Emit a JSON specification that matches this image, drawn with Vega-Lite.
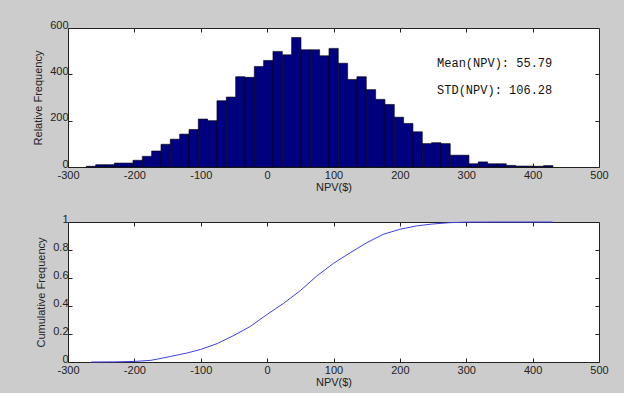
{
  "$schema": "https://vega.github.io/schema/vega-lite/v6.json",
  "background": "#cccccc",
  "padding": {"left": 32, "top": 18, "right": 20, "bottom": 5},
  "config": {
    "view": {"fill": "white", "stroke": "#222222", "strokeWidth": 1},
    "axis": {
      "labelFont": "Liberation Sans", "labelFontSize": 11, "labelColor": "#222222",
      "titleFont": "Liberation Sans", "titleFontSize": 11, "titleFontWeight": "normal", "titleColor": "#222222",
      "grid": false, "domain": false, "tickColor": "#222222", "tickSize": -4, "labelPadding": 4,
      "labelFlush": false, "labelOverlap": false,
      "labelExpr": "'' + datum.value"
    },
    "axisLeft": {"titlePadding": 6, "labelOffset": -3},
    "axisBottom": {"labelPadding": 6}
  },
  "datasets": {
    "hist": [
      {"bin_start": -272.4, "bin_end": -258.3, "count": 3},
      {"bin_start": -258.3, "bin_end": -244.3, "count": 10},
      {"bin_start": -244.3, "bin_end": -230.2, "count": 10},
      {"bin_start": -230.2, "bin_end": -216.2, "count": 17},
      {"bin_start": -216.2, "bin_end": -202.1, "count": 17},
      {"bin_start": -202.1, "bin_end": -188.0, "count": 29},
      {"bin_start": -188.0, "bin_end": -174.0, "count": 46},
      {"bin_start": -174.0, "bin_end": -159.9, "count": 69},
      {"bin_start": -159.9, "bin_end": -145.9, "count": 98},
      {"bin_start": -145.9, "bin_end": -131.8, "count": 120},
      {"bin_start": -131.8, "bin_end": -117.7, "count": 142},
      {"bin_start": -117.7, "bin_end": -103.7, "count": 162},
      {"bin_start": -103.7, "bin_end": -89.6, "count": 207},
      {"bin_start": -89.6, "bin_end": -75.6, "count": 200},
      {"bin_start": -75.6, "bin_end": -61.5, "count": 286},
      {"bin_start": -61.5, "bin_end": -47.4, "count": 302},
      {"bin_start": -47.4, "bin_end": -33.4, "count": 390},
      {"bin_start": -33.4, "bin_end": -19.3, "count": 387},
      {"bin_start": -19.3, "bin_end": -5.3, "count": 434},
      {"bin_start": -5.3, "bin_end": 8.8, "count": 460},
      {"bin_start": 8.8, "bin_end": 22.9, "count": 499},
      {"bin_start": 22.9, "bin_end": 36.9, "count": 484},
      {"bin_start": 36.9, "bin_end": 51.0, "count": 559},
      {"bin_start": 51.0, "bin_end": 65.0, "count": 506},
      {"bin_start": 65.0, "bin_end": 79.1, "count": 506},
      {"bin_start": 79.1, "bin_end": 93.2, "count": 480},
      {"bin_start": 93.2, "bin_end": 107.2, "count": 512},
      {"bin_start": 107.2, "bin_end": 121.3, "count": 448},
      {"bin_start": 121.3, "bin_end": 135.3, "count": 378},
      {"bin_start": 135.3, "bin_end": 149.4, "count": 390},
      {"bin_start": 149.4, "bin_end": 163.5, "count": 334},
      {"bin_start": 163.5, "bin_end": 177.5, "count": 292},
      {"bin_start": 177.5, "bin_end": 191.6, "count": 270},
      {"bin_start": 191.6, "bin_end": 205.6, "count": 215},
      {"bin_start": 205.6, "bin_end": 219.7, "count": 188},
      {"bin_start": 219.7, "bin_end": 233.8, "count": 152},
      {"bin_start": 233.8, "bin_end": 247.8, "count": 101},
      {"bin_start": 247.8, "bin_end": 261.9, "count": 105},
      {"bin_start": 261.9, "bin_end": 275.9, "count": 101},
      {"bin_start": 275.9, "bin_end": 290.0, "count": 51},
      {"bin_start": 290.0, "bin_end": 304.1, "count": 51},
      {"bin_start": 304.1, "bin_end": 318.1, "count": 14},
      {"bin_start": 318.1, "bin_end": 332.2, "count": 22},
      {"bin_start": 332.2, "bin_end": 346.2, "count": 14},
      {"bin_start": 346.2, "bin_end": 360.3, "count": 14},
      {"bin_start": 360.3, "bin_end": 374.4, "count": 7},
      {"bin_start": 374.4, "bin_end": 388.4, "count": 4},
      {"bin_start": 388.4, "bin_end": 402.5, "count": 4},
      {"bin_start": 402.5, "bin_end": 416.5, "count": 3},
      {"bin_start": 416.5, "bin_end": 430.6, "count": 6}
    ],
    "stats": [
      {"x": 256, "y": 450, "label": "Mean(NPV): 55.79"},
      {"x": 256, "y": 332, "label": "STD(NPV): 106.28"}
    ],
    "cdf": [
      {"npv": -265, "cum": 0},
      {"npv": -230, "cum": 0.001},
      {"npv": -200, "cum": 0.004},
      {"npv": -175, "cum": 0.012},
      {"npv": -145, "cum": 0.04},
      {"npv": -120, "cum": 0.065},
      {"npv": -100, "cum": 0.09},
      {"npv": -75, "cum": 0.132},
      {"npv": -50, "cum": 0.19},
      {"npv": -25, "cum": 0.255},
      {"npv": 0, "cum": 0.34},
      {"npv": 25, "cum": 0.42},
      {"npv": 50, "cum": 0.51},
      {"npv": 75, "cum": 0.615},
      {"npv": 100, "cum": 0.705},
      {"npv": 125, "cum": 0.78},
      {"npv": 150, "cum": 0.852},
      {"npv": 175, "cum": 0.912},
      {"npv": 200, "cum": 0.948},
      {"npv": 225, "cum": 0.972},
      {"npv": 250, "cum": 0.986},
      {"npv": 275, "cum": 0.995},
      {"npv": 300, "cum": 0.999},
      {"npv": 350, "cum": 1.0},
      {"npv": 430, "cum": 1.0}
    ]
  },
  "bounds": "flush",
  "spacing": 55,
  "vconcat": [
    {
      "width": 531,
      "height": 139,
      "layer": [
        {
          "data": {"name": "hist"},
          "mark": {"type": "bar", "fill": "#000080", "stroke": "#000000", "strokeWidth": 0.6},
          "encoding": {
            "x": {"field": "bin_start", "type": "quantitative",
                  "scale": {"domain": [-300, 500], "nice": false, "zero": false, "padding": 0},
                  "axis": {"orient": "bottom", "values": [-300, -200, -100, 0, 100, 200, 300, 400, 500], "title": "NPV($)", "titlePadding": 1}},
            "x2": {"field": "bin_end"},
            "y": {"field": "count", "type": "quantitative",
                  "scale": {"domain": [0, 600], "nice": false, "padding": 0},
                  "axis": {"orient": "left", "values": [0, 200, 400, 600], "title": "Relative Frequency"}},
            "y2": {"datum": 0}
          }
        },
        {
          "data": {"name": "stats"},
          "mark": {"type": "text", "align": "left", "baseline": "middle", "font": "Liberation Mono", "fontSize": 12, "color": "#111111"},
          "encoding": {
            "x": {"field": "x", "type": "quantitative",
                  "axis": {"orient": "top", "labels": false, "title": null, "values": [-200, -100, 0, 100, 200, 300, 400]}},
            "y": {"field": "y", "type": "quantitative",
                  "axis": {"orient": "right", "labels": false, "title": null, "values": [200, 400]}},
            "text": {"field": "label"}
          }
        }
      ],
      "resolve": {"axis": {"x": "independent", "y": "independent"}}
    },
    {
      "width": 531,
      "height": 140,
      "layer": [
        {
          "data": {"name": "cdf"},
          "mark": {"type": "line", "color": "#4040e0", "strokeWidth": 1},
          "encoding": {
            "x": {"field": "npv", "type": "quantitative",
                  "scale": {"domain": [-300, 500], "nice": false, "zero": false, "padding": 0},
                  "axis": {"orient": "bottom", "values": [-300, -200, -100, 0, 100, 200, 300, 400, 500], "title": "NPV($)", "titlePadding": 1}},
            "y": {"field": "cum", "type": "quantitative",
                  "scale": {"domain": [0, 1], "nice": false, "padding": 0},
                  "axis": {"orient": "left", "values": [0, 0.2, 0.4, 0.6, 0.8, 1], "title": "Cumulative Frequency"}}
          }
        },
        {
          "data": {"name": "cdf"},
          "mark": {"type": "point", "opacity": 0},
          "encoding": {
            "x": {"field": "npv", "type": "quantitative",
                  "axis": {"orient": "top", "labels": false, "title": null, "values": [-200, -100, 0, 100, 200, 300, 400]}},
            "y": {"field": "cum", "type": "quantitative",
                  "axis": {"orient": "right", "labels": false, "title": null, "values": [0.2, 0.4, 0.6, 0.8]}}
          }
        }
      ],
      "resolve": {"axis": {"x": "independent", "y": "independent"}}
    }
  ]
}
